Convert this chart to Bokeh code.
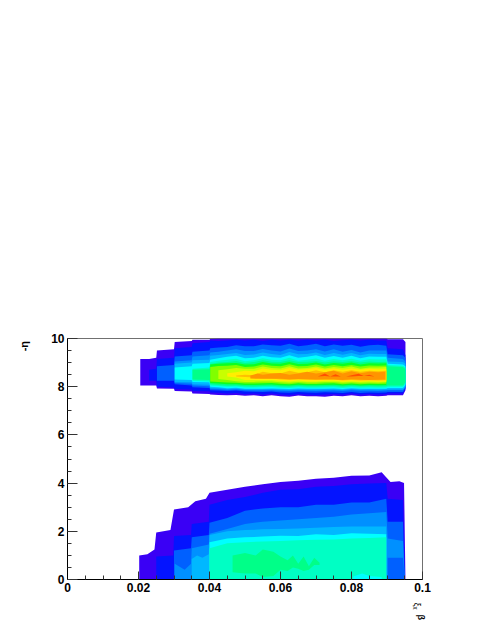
from math import pi
from bokeh.plotting import figure
from bokeh.models import FixedTicker, LinearAxis, Range1d
from bokeh.embed import file_html
from bokeh.resources import INLINE

x_ticks = [0, 0.02, 0.04, 0.06, 0.08, 0.1]
y_ticks = [0, 2, 4, 6, 8, 10]
x_title_pos = [0.0985]
x_title2_pos = [0.0995]
y_title_pos = [9.9]

C1 = "#3a00f5"; C2 = "#0414ff"; C3 = "#0060ff"; C4 = "#0090ff"; C5 = "#00b8ff"
C6 = "#00ffff"; C7 = "#00ffc4"; C8 = "#00ff88"; C9 = "#0cff20"; C10 = "#80ff00"
C11 = "#c8ff00"; C12 = "#ffee00"; C13 = "#ffc000"; C14 = "#ff9400"; C15 = "#ff5000"

# upper blob: shared x nodes
U_X = [.0205,.023,.025,.0252,.03,.0302,.035,.0352,.04,
       .0402,.0425,.045,.0475,.05,.0525,.055,.0575,.06,.0625,.065,.0675,.07,.0725,.075,.0775,.08,.0825,.085,.0875,.0898,
       .0902,.0945,.0952]

U1_top = [9.15,9.15,9.2,9.5,9.55,9.85,9.9,9.95,9.95] + [9.98,10,10,10,10,10,10,10,10,10,10,10,10,10,10,10,10,10,10,10,10] + [9.97,9.97,9.85]
U1_bot = [8.05,8.05,8.05,7.93,7.92,7.82,7.8,7.72,7.7] + [7.68,7.66,7.65,7.66,7.62,7.65,7.6,7.65,7.6,7.58,7.63,7.6,7.6,7.58,7.62,7.6,7.65,7.6,7.62,7.6,7.62] + [7.65,7.65,7.85]
U2_top = [8.7,8.75,9.15,9.2,9.6,9.65,9.8,9.85] + [9.92,9.9,9.92,9.95,9.92,9.95,9.9,9.95,9.92,9.95,9.92,9.95,9.92,9.95,9.9,9.93,9.95,9.92,9.95,9.92,9.92] + [9.6,9.55,9.3]
U2_bot = [8.25,8.25,8.0,7.97,7.9,7.88,7.82,7.81] + [7.76,7.75,7.72,7.74,7.7,7.72,7.68,7.72,7.68,7.66,7.7,7.68,7.66,7.68,7.7,7.68,7.72,7.68,7.7,7.68,7.7] + [7.72,7.72,7.9]
U3_top = [8.85,8.9,9.25,9.3,9.45,9.5] + [9.6,9.63,9.65,9.72,9.68,9.68,9.75,9.72,9.7,9.78,9.68,9.72,9.78,9.68,9.75,9.7,9.74,9.66,9.72,9.74,9.7] + [9.35,9.3,9.2]
U3_bot = [8.25,8.25,8.1,8.05,7.98,7.95] + [7.85,7.84,7.82,7.84,7.8,7.79,7.78,7.8,7.76,7.75,7.78,7.76,7.75,7.77,7.76,7.74,7.78,7.74,7.76,7.75,7.76] + [7.78,7.78,7.95]
U4_top = [9.05,9.1,9.25,9.3] + [9.42,9.45,9.5,9.55,9.48,9.48,9.56,9.5,9.46,9.58,9.48,9.5,9.55,9.46,9.55,9.45,9.52,9.42,9.5,9.5,9.5] + [9.2,9.15,9.05]
U4_bot = [8.15,8.12,8.05,8.02] + [7.9,7.89,7.86,7.88,7.85,7.84,7.84,7.85,7.83,7.82,7.84,7.83,7.82,7.83,7.84,7.82,7.85,7.83,7.83,7.82,7.84] + [7.85,7.85,8.0]
U5_top = [8.95,9.0,9.1,9.12] + [9.28,9.32,9.36,9.4,9.32,9.34,9.42,9.36,9.32,9.44,9.35,9.36,9.42,9.32,9.4,9.33,9.4,9.3,9.37,9.36,9.36] + [9.05,9.02,8.95]
U5_bot = [8.2,8.18,8.1,8.08] + [7.95,7.94,7.9,7.92,7.88,7.88,7.88,7.89,7.87,7.86,7.88,7.87,7.87,7.88,7.88,7.86,7.9,7.87,7.88,7.87,7.88] + [7.88,7.88,8.02]
U6_top = [8.8,8.85,8.95,8.98] + [9.12,9.18,9.24,9.28,9.18,9.2,9.28,9.22,9.2,9.3,9.2,9.24,9.3,9.2,9.27,9.2,9.28,9.18,9.25,9.24,9.24] + [8.95,8.92,8.85]
U6_bot = [8.3,8.28,8.2,8.18] + [8.0,7.98,7.94,7.96,7.92,7.92,7.92,7.93,7.91,7.9,7.93,7.91,7.91,7.92,7.93,7.9,7.94,7.91,7.92,7.91,7.92] + [7.95,7.95,8.08]
U7_top = [8.75,8.8] + [9.02,9.08,9.12,9.16,9.06,9.1,9.18,9.12,9.1,9.2,9.08,9.12,9.17,9.08,9.15,9.1,9.16,9.08,9.14,9.13,9.14] + [8.9,8.87,8.8]
U7_bot = [8.25,8.22] + [8.05,8.03,8.0,8.01,7.97,7.97,7.98,7.99,7.96,7.95,7.98,7.96,7.96,7.97,7.98,7.95,7.98,7.96,7.97,7.96,7.97] + [8.0,8.0,8.12]
U8_top = [8.7,8.72] + [8.94,9.0,9.03,9.07,8.98,9.02,9.1,9.04,9.02,9.1,9.02,9.04,9.07,9.0,9.06,9.02,9.07,9.0,9.05,9.03,9.04] + [8.85,8.82,8.72]
U8_bot = [8.3,8.28] + [8.1,8.07,8.04,8.05,8.02,8.01,8.03,8.04,8.01,8.0,8.03,8.01,8.01,8.02,8.03,8.0,8.03,8.01,8.02,8.01,8.02] + [8.05,8.05,8.18]
U9_top = [8.92,8.95,8.97,8.98,8.92,8.93,9.02,8.96,8.95,9.02,8.94,8.95,9.0,8.92,8.98,8.95,9.0,8.92,8.97,8.96,8.97]
U9_bot = [8.15,8.13,8.1,8.1,8.07,8.07,8.08,8.09,8.06,8.05,8.08,8.06,8.06,8.07,8.08,8.05,8.08,8.05,8.07,8.06,8.07]
U10_top = [8.82,8.86,8.87,8.9,8.82,8.84,8.92,8.87,8.85,8.93,8.85,8.86,8.92,8.84,8.9,8.85,8.9,8.84,8.88,8.87,8.88]
U10_bot = [8.22,8.2,8.17,8.16,8.13,8.13,8.14,8.15,8.12,8.1,8.14,8.11,8.11,8.13,8.14,8.1,8.13,8.1,8.12,8.11,8.12]
U11_top = [8.68,8.72,8.78,8.74,8.74,8.84,8.78,8.76,8.85,8.76,8.78,8.84,8.76,8.82,8.78,8.84,8.75,8.8,8.8,8.82]
U11_bot = [8.32,8.28,8.23,8.2,8.2,8.22,8.22,8.18,8.16,8.2,8.17,8.17,8.19,8.2,8.16,8.18,8.16,8.17,8.16,8.18]
U12_top = [8.56,8.6,8.66,8.64,8.76,8.7,8.68,8.78,8.7,8.72,8.78,8.7,8.76,8.7,8.76,8.7,8.74,8.72,8.74]
U12_bot = [8.42,8.38,8.28,8.28,8.27,8.28,8.24,8.22,8.26,8.22,8.22,8.25,8.25,8.21,8.23,8.21,8.23,8.21,8.22]
U13_top = [8.46,8.5,8.48,8.62,8.56,8.55,8.66,8.58,8.6,8.68,8.6,8.68,8.62,8.68,8.62,8.66,8.64,8.66]
U13_bot = [8.42,8.4,8.38,8.34,8.34,8.3,8.28,8.32,8.29,8.28,8.3,8.3,8.26,8.28,8.26,8.27,8.26,8.27]
U14_x = [.0515,.0535,.055,.0575,.06,.0625,.065,.0675,.07,.0725,.075,.0775,.08,.0825,.085,.0875,.0895]
U14_top = [8.46,8.55,8.5,8.55,8.57,8.5,8.55,8.62,8.55,8.6,8.66,8.55,8.64,8.56,8.62,8.6,8.62]
U14_bot = [8.34,8.33,8.33,8.33,8.33,8.31,8.31,8.31,8.3,8.3,8.3,8.28,8.31,8.29,8.28,8.29,8.3]
U15_x = [.0705,.0725,.074,.0755,.077,.0785,.08,.082,.0835,.085,.0865]
U15_top = [8.42,8.55,8.42,8.52,8.42,8.42,8.47,8.54,8.44,8.5,8.42]
U15_bot = [8.42,8.44,8.42,8.42,8.42,8.42,8.42,8.44,8.44,8.44,8.42]

# lower blob
L1_x = [.0202,.0225,.0245,.025,.029,.03,.034,.036,.039,.04,.045,.05,.055,.06,.065,.07,.075,.08,.085,.0885,.0897,.091,.0935,.0948,.0952]
L1_top = [1.0,1.05,1.25,1.95,2.05,2.9,3.0,3.25,3.35,3.6,3.72,3.85,3.95,4.05,4.1,4.18,4.22,4.3,4.32,4.45,4.25,4.05,4.08,4.0,0.0]
L2_x = [.025,.0298,.03,.0348,.035,.0398,.04,.045,.05,.055,.06,.065,.07,.075,.08,.085,.0898,.0902,.0945,.095]
L2_top = [.95,1.0,1.8,1.85,2.3,2.4,3.1,3.3,3.42,3.6,3.72,3.75,3.85,3.88,3.95,3.98,4.0,3.35,3.3,0.0]
L3_x = [.03,.0348,.035,.0398,.04,.045,.05,.055,.06,.065,.07,.075,.08,.085,.0898,.0902,.0945,.095]
L3_top = [1.2,1.3,1.75,1.85,2.35,2.55,2.85,2.95,3.0,3.0,3.1,3.1,3.2,3.2,3.35,2.4,2.4,0.0]
L4_x = [.0302,.033,.0348,.035,.0398,.04,.045,.05,.055,.06,.065,.07,.075,.08,.085,.0898,.0902,.0945,.095]
L4_top = [.65,.4,.65,1.3,1.45,1.9,2.1,2.3,2.4,2.45,2.5,2.55,2.6,2.7,2.75,2.8,1.7,1.6,0.0]
L4b_x = [.0902,.0945,.095]
L4b_top = [.9,.9,.0]
L5_x = [.035,.0365,.038,.0398,.04,.045,.05,.055,.06,.065,.07,.075,.08,.085,.0898]
L5_top = [.85,1.0,.9,1.05,1.85,2.0,2.05,2.08,2.1,2.12,2.15,2.18,2.2,2.2,2.2]
L6_x = [.04,.045,.05,.055,.06,.065,.07,.075,.08,.085,.0898]
L6_top = [1.55,1.7,1.75,1.78,1.82,1.8,1.88,1.85,1.92,1.9,1.88]
L7_top = [1.3,1.5,1.55,1.58,1.6,1.63,1.65,1.66,1.7,1.72,1.75]
L8_x = [.0465,.05,.053,.055,.058,.06,.062,.0635,.065,.0665,.068,.0695,.071]
L8_top = [1.0,1.1,1.0,1.25,1.15,.95,.8,1.0,.65,.95,.55,.9,.7]
L8_bot = [.3,.25,.25,.1,.15,.4,.35,.5,.45,.35,.4,.6,.6]
L7b_x = [.0805,.083,.085,.0885]
L7b_top = [.12,.25,.15,.1]

p = figure(width=470, height=626, output_backend="svg", toolbar_location=None,
           x_range=Range1d(0, 0.1), y_range=Range1d(0, 10),
           min_border_left=67, min_border_right=48, min_border_top=338, min_border_bottom=47)
p.grid.visible = False
p.background_fill_color = "white"
p.border_fill_color = "white"
p.outline_line_color = "#707070"
p.outline_line_width = 1

def up(color, top, bot, start):
    xs = U_X[start:start + len(top)]
    assert len(xs) == len(top) == len(bot), (color, len(xs), len(top), len(bot))
    p.varea(x=xs, y1=bot, y2=top, fill_color=color)

def low(color, xs, top):
    assert len(xs) == len(top), color
    p.varea(x=xs, y1=[0] * len(xs), y2=top, fill_color=color)

up(C1, U1_top, U1_bot, 0)
up(C2, U2_top, U2_bot, 1)
up(C3, U3_top, U3_bot, 3)
up(C4, U4_top, U4_bot, 5)
up(C5, U5_top, U5_bot, 5)
up(C6, U6_top, U6_bot, 5)
up(C7, U7_top, U7_bot, 7)
up(C8, U8_top, U8_bot, 7)
up(C9, U9_top, U9_bot, 9)
up(C10, U10_top, U10_bot, 9)
up(C11, U11_top, U11_bot, 10)
up(C12, U12_top, U12_bot, 11)
up(C13, U13_top, U13_bot, 12)
p.varea(x=U14_x, y1=U14_bot, y2=U14_top, fill_color=C14)
p.varea(x=U15_x, y1=U15_bot, y2=U15_top, fill_color=C15)

low(C1, L1_x, L1_top)
low(C2, L2_x, L2_top)
low(C3, L3_x, L3_top)
low(C4, L4_x, L4_top)
low(C3, L4b_x, L4b_top)
low(C5, L5_x, L5_top)
low(C6, L6_x, L6_top)
low(C7, L6_x, L7_top)
p.varea(x=L8_x, y1=L8_bot, y2=L8_top, fill_color=C8)
low(C6, L7b_x, L7b_top)

for ax, ticks in ((p.xaxis[0], x_ticks), (p.yaxis[0], y_ticks)):
    ax.ticker = FixedTicker(ticks=ticks, minor_ticks=[])
    ax.major_tick_in = 8
    ax.major_tick_out = 0
    ax.minor_tick_in = 4
    ax.minor_tick_out = 0
    ax.axis_line_color = "black"
    ax.major_tick_line_color = "#333333"
    ax.minor_tick_line_color = "#333333"
    ax.major_label_text_font = "Liberation Sans"
    ax.major_label_text_font_style = "bold"
    ax.major_label_text_font_size = "12px"
    ax.major_label_text_color = "black"
    ax.major_label_standoff = 3
p.xaxis[0].ticker = FixedTicker(ticks=x_ticks, minor_ticks=[i * 0.005 for i in range(21)])
p.yaxis[0].ticker = FixedTicker(ticks=y_ticks, minor_ticks=[i * 0.5 for i in range(21)])
p.yaxis[0].major_tick_in = 10

def title_axis(side, pos, text, orientation, size, style, standoff):
    ax = LinearAxis(ticker=FixedTicker(ticks=pos, minor_ticks=[]),
                    major_label_overrides={pos[0]: text},
                    major_label_orientation=orientation,
                    major_label_text_font="Liberation Sans",
                    major_label_text_font_size=size,
                    major_label_text_font_style=style,
                    major_label_text_color="black",
                    major_label_standoff=standoff,
                    axis_line_color=None, major_tick_line_color=None, minor_tick_line_color=None)
    p.add_layout(ax, side)

title_axis("below", x_title_pos, "ξₓ", -pi / 2, "9px", "normal", 2)
title_axis("below", x_title2_pos, "β", -pi / 2, "9px", "bold", -4)
title_axis("left", y_title_pos, "-η", pi / 2, "11px", "bold", 18)

open("out.html", "w").write(file_html(p, INLINE))
